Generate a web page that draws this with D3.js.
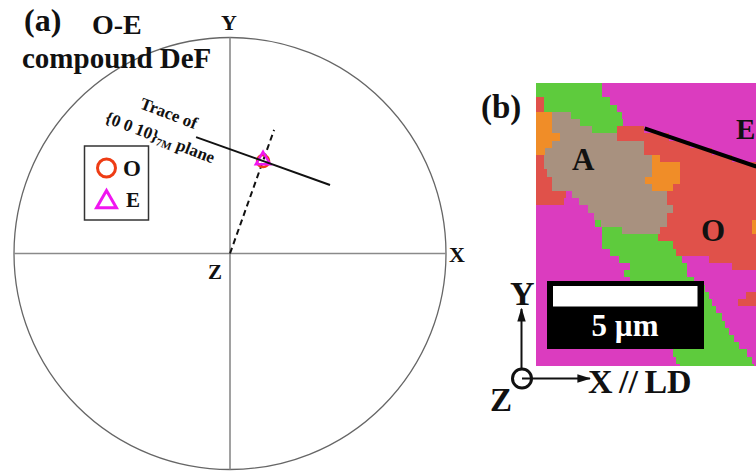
<!DOCTYPE html>
<html>
<head>
<meta charset="utf-8">
<script src="https://cdn.jsdelivr.net/npm/d3@7"></script>
<style>
    html, body { margin: 0; padding: 0; background: #fff; overflow: hidden; }
    text { font-family: "Liberation Serif", serif; font-weight: bold; fill: #111; }
</style>
</head>
<body>
<div id="chart"></div>
<script>
// pole figure data, in unit circle coordinates
var poleO = [{ x: 0.153, y: 0.428 }];
var poleE = [{ x: 0.153, y: 0.432 }];
var traceLine = [{ x: -0.157, y: 0.539 }, { x: 0.463, y: 0.317 }];
var poleDirection = [{ x: 0, y: 0 }, { x: 0.204, y: 0.572 }];
var axisLabels = ["X", "Y", "Z"];

// orientation map, one string per scan row: phase letter + column where the run ends
var mapRows = [
    "G9.2 M31", "G9.2 M31", "R1.1 G10.3 M31", "R1.1 G11.25 M31",
    "Y2.2 T4.8 G12 M31", "Y2.2 T6.1 G12.1 M31", "Y2.2 T7.8 G11.25 R15 M31", "Y3.3 T11.25 R18.5 M31",
    "Y2.2 T15 R21.4 M31", "Y1.2 T15 R24.4 M31", "R1.1 T16.1 Y17.2 R27.2 M31", "R1.1 T16.1 Y20 R31",
    "R1.5 T16.1 Y20 R31", "R2.2 T15.1 Y20 R31", "R2.2 T16.1 Y19 R31", "R4.2 M5 T18.2 R31",
    "R3.9 M6 T18.2 R31", "M7.2 T19 R31", "M8 T18.2 R31", "M8.2 G9 T18.2 R30 Y31",
    "M9.2 G12 T17.2 R30 Y31", "M9.2 G16.9 R31", "M9.2 G19 R31", "M10.3 G19.5 R31",
    "M11.5 G20.3 M24 R31", "M13 G21 M27.2 R31", "M12.2 G21 M31", "M13 G22 M31",
    "M13 G23.5 M31", "M14 G24 M29.2 R31", "M14 G24.4 M28 R31", "M14 G25 M31",
    "M15 G25.8 M31", "M15 G26.3 M31", "M16 G26.8 M31", "M17 G27.5 M31",
    "M18 G28.2 M31", "M19 G29.3 M31", "M19.5 G30 M31", "M20 G30.3 M31"
];
var mapPhases = ["G", "M", "R", "T", "Y"];
var phaseColors = ["#5ecb3d", "#db3cbf", "#e0514a", "#a8917f", "#f08d28"];
var mapBoundary = [{ col: 15.1, row: 6.3 }, { col: 30.6, row: 11.6 }];
var scaleBarLength = 5; // um

var svg = d3.select("#chart").append("svg")
    .attr("width", 756)
    .attr("height", 472)
    .style("display", "block");

// bagian (a): pole figure
var x = d3.scaleLinear().domain([-1, 1]).range([14, 446]);
var y = d3.scaleLinear().domain([-1, 1]).range([469.5, 37.5]);

svg.append("circle")
    .attr("cx", x(0))
    .attr("cy", y(0))
    .attr("r", x(1) - x(0))
    .attr("fill", "none")
    .attr("stroke", "#666")
    .attr("stroke-width", 1.3);

svg.append("line")
    .attr("x1", x(-1)).attr("x2", x(1))
    .attr("y1", y(0)).attr("y2", y(0))
    .attr("stroke", "#8a8a8a")
    .attr("stroke-width", 1.6);
svg.append("line")
    .attr("x1", x(0)).attr("x2", x(0))
    .attr("y1", y(1)).attr("y2", y(-1))
    .attr("stroke", "#8a8a8a")
    .attr("stroke-width", 1.6);

var line = d3.line()
    .x(function (d) { return x(d.x); })
    .y(function (d) { return y(d.y); });

svg.append("path")
    .attr("d", line(poleDirection))
    .attr("fill", "none")
    .attr("stroke", "#111")
    .attr("stroke-width", 2)
    .attr("stroke-dasharray", "6,4");

svg.selectAll(".pole-o")
    .data(poleO)
    .enter().append("circle")
    .attr("class", "pole-o")
    .attr("cx", function (d) { return x(d.x); })
    .attr("cy", function (d) { return y(d.y); })
    .attr("r", 6)
    .attr("fill", "none")
    .attr("stroke", "#ee3c14")
    .attr("stroke-width", 2.5);

var triangle = d3.symbol().type(d3.symbolTriangle);

svg.selectAll(".pole-e")
    .data(poleE)
    .enter().append("path")
    .attr("class", "pole-e")
    .attr("d", triangle.size(90)())
    .attr("transform", function (d) { return "translate(" + x(d.x) + "," + y(d.y) + ")"; })
    .attr("fill", "none")
    .attr("stroke", "#f016f0")
    .attr("stroke-width", 2.5);

svg.append("path")
    .attr("d", line(traceLine))
    .attr("fill", "none")
    .attr("stroke", "#111")
    .attr("stroke-width", 2);

function label(txt, px, py, size, rotate) {
    var t = svg.append("text")
        .attr("x", px)
        .attr("y", py)
        .attr("font-size", size)
        .text(txt);
    if (rotate) {
        t.attr("transform", "rotate(" + rotate + "," + px + "," + py + ")");
    }
    return t;
}

label("(a)", 24, 31, 32);
label("O-E", 92, 34, 28);
label("compound DeF", 22, 68, 29);
label(axisLabels[1], 221, 30, 22);
label(axisLabels[0], 449, 262, 22);
label(axisLabels[2], 208, 279, 21);

label("Trace of", 139, 108, 17, 21);
var planeLabel = label("{0 0 10}", 104, 122, 17, 21);
planeLabel.append("tspan").attr("font-size", 11).attr("dy", 3).text("7M");
planeLabel.append("tspan").attr("dy", -3).text(" plane");

// legenda
svg.append("rect")
    .attr("x", 84.5).attr("y", 146)
    .attr("width", 64).attr("height", 74)
    .attr("fill", "#fff")
    .attr("stroke", "#333")
    .attr("stroke-width", 1.5);
svg.append("circle")
    .attr("cx", 106.5).attr("cy", 168)
    .attr("r", 9)
    .attr("fill", "none")
    .attr("stroke", "#ee3c14")
    .attr("stroke-width", 3);
svg.append("path")
    .attr("d", triangle.size(170)())
    .attr("transform", "translate(106.5,202)")
    .attr("fill", "none")
    .attr("stroke", "#f016f0")
    .attr("stroke-width", 3);
label("O", 123, 176, 23);
label("E", 126, 207, 21);

// bagian (b): orientation map
var col = d3.scaleLinear().domain([0, 30.56]).range([536, 756]);
var row = d3.scaleLinear().domain([0, 39.3]).range([83, 366]);
var phaseColor = d3.scaleOrdinal().domain(mapPhases).range(phaseColors);

var runs = [];
mapRows.forEach(function (rowText, i) {
    var start = 0;
    rowText.split(" ").forEach(function (part) {
        var end = +part.slice(1);
        runs.push({ row: i, start: start, end: end, phase: part[0] });
        start = end;
    });
});

svg.append("clipPath")
    .attr("id", "map-clip")
    .append("rect")
    .attr("x", col(0)).attr("y", row(0))
    .attr("width", col(30.56) - col(0))
    .attr("height", row(39.3) - row(0));

var mapGroup = svg.append("g").attr("clip-path", "url(#map-clip)");

mapGroup.selectAll(".run")
    .data(runs)
    .enter().append("rect")
    .attr("class", "run")
    .attr("x", function (d) { return Math.round(col(d.start)); })
    .attr("y", function (d) { return Math.round(row(d.row)); })
    .attr("width", function (d) { return Math.round(col(d.end)) - Math.round(col(d.start)); })
    .attr("height", function (d) { return Math.round(row(d.row + 1)) - Math.round(row(d.row)); })
    .attr("fill", function (d) { return phaseColor(d.phase); });

mapGroup.append("path")
    .attr("d", d3.line()
        .x(function (d) { return col(d.col); })
        .y(function (d) { return row(d.row); })(mapBoundary))
    .attr("stroke", "#000")
    .attr("stroke-width", 4);

label("(b)", 481, 118, 33);
label("A", 572, 170, 31);
label("O", 701, 241, 31);
label("E", 736, 139, 29);

// scale bar, 28.8 px per um
var barX = d3.scaleLinear().domain([0, scaleBarLength]).range([553, 697.5]);
svg.append("rect")
    .attr("x", 547).attr("y", 281)
    .attr("width", 157).attr("height", 68)
    .attr("fill", "#000");
svg.append("rect")
    .attr("x", barX(0)).attr("y", 286)
    .attr("width", barX(scaleBarLength) - barX(0)).attr("height", 20.5)
    .attr("fill", "#fff");
label(scaleBarLength + " \u00b5m", 625, 336, 31)
    .attr("text-anchor", "middle")
    .style("fill", "#fff");

// sumbu sampel
svg.append("defs").append("marker")
    .attr("id", "arrow")
    .attr("viewBox", "0 0 10 10")
    .attr("refX", 9).attr("refY", 5)
    .attr("markerWidth", 7).attr("markerHeight", 7)
    .attr("markerUnits", "strokeWidth")
    .attr("orient", "auto")
    .append("path")
    .attr("d", "M0,2L10,5L0,8Z")
    .attr("fill", "#111");
svg.append("line")
    .attr("x1", 521.5).attr("y1", 368)
    .attr("x2", 521.5).attr("y2", 309)
    .attr("stroke", "#111").attr("stroke-width", 2)
    .attr("marker-end", "url(#arrow)");
svg.append("line")
    .attr("x1", 522).attr("y1", 378.5)
    .attr("x2", 590).attr("y2", 378.5)
    .attr("stroke", "#111").attr("stroke-width", 2)
    .attr("marker-end", "url(#arrow)");
svg.append("circle")
    .attr("cx", 522).attr("cy", 378.5)
    .attr("r", 9.5)
    .attr("fill", "none")
    .attr("stroke", "#111")
    .attr("stroke-width", 3);

label("Y", 510, 305, 34);
label("X // LD", 588, 393, 34).attr("word-spacing", -2);
label("Z", 490, 411, 33);
</script>
</body>
</html>
